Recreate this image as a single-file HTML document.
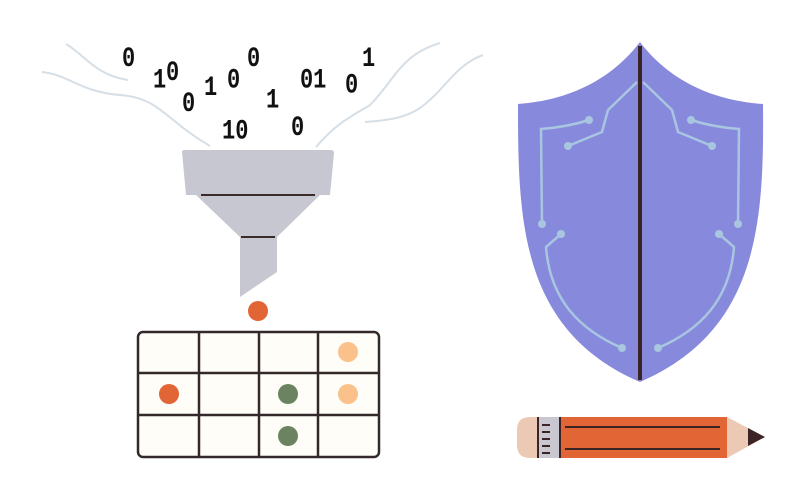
<!DOCTYPE html>
<html><head><style>body{margin:0;background:#fff}svg{display:block}</style></head><body>
<svg width="806" height="500" viewBox="0 0 806 500" xmlns="http://www.w3.org/2000/svg">
<g fill="none" stroke="#d6dee6" stroke-width="2">
<path d="M66 44 C85 55 95 75 128 80"/>
<path d="M42 72 C70 75 80 92 120 95 C160 98 165 120 210 146"/>
<path d="M440 43 C400 55 395 80 370 105 C345 120 335 125 316 147"/>
<path d="M483 55 C455 65 445 90 420 108 C405 118 390 120 365 122"/>
</g>
<g font-family="Liberation Mono, monospace" font-weight="bold" font-size="22" fill="#111" transform="scale(1,1.25)">
<text x="122" y="53">0</text>
<text x="153" y="70">1</text>
<text x="166" y="64">0</text>
<text x="182" y="89">0</text>
<text x="204" y="76">1</text>
<text x="227" y="70">0</text>
<text x="247" y="53">0</text>
<text x="266" y="86">1</text>
<text x="291" y="108">0</text>
<text x="222" y="111">10</text>
<text x="300" y="70">01</text>
<text x="345" y="74">0</text>
<text x="362" y="53">1</text>
</g>
<path d="M182 152 Q182 150 185 150 L331 150 Q334 150 334 153 L330 195 L186 195 Z" fill="#c7c7d1"/>
<path d="M196 195 L320 195 L277 237 L277 272 L240 297 L240 237 Z" fill="#c7c7d1"/>
<line x1="201" y1="195" x2="315" y2="195" stroke="#3a2a2a" stroke-width="2"/>
<line x1="241" y1="237" x2="275" y2="237" stroke="#3a2a2a" stroke-width="2"/>
<circle cx="258" cy="311" r="10" fill="#e26536"/>
<rect x="138" y="332" width="241" height="125" rx="5" fill="#fefdf8" stroke="#33292a" stroke-width="2.5"/>
<g stroke="#33292a" stroke-width="2.5">
<line x1="199" y1="332" x2="199" y2="457"/><line x1="259" y1="332" x2="259" y2="457"/><line x1="318" y1="332" x2="318" y2="457"/>
<line x1="138" y1="373" x2="379" y2="373"/><line x1="138" y1="415" x2="379" y2="415"/>
</g>
<circle cx="348" cy="352" r="10" fill="#fbc18a"/>
<circle cx="348" cy="394" r="10" fill="#fbc18a"/>
<circle cx="169" cy="394" r="10" fill="#e26536"/>
<circle cx="288" cy="394" r="10" fill="#6c8362"/>
<circle cx="288" cy="436" r="10" fill="#6c8362"/>
<path d="M640 42 C615 75 575 100 518 104 C518 220 520 330 640 382 C760 330 764 220 763 104 C705 100 665 75 640 42 Z" fill="#8789dd"/>
<g fill="none" stroke="#a9c6e0" stroke-width="2.5">
<path d="M637 82 L608 110 L602 132 L568 146"/>
<path d="M589 120 C570 126 555 128 541 129 L542 224"/>
<path d="M561 234 L546 247 C550 300 580 330 622 348"/>
<path d="M643 82 L672 110 L678 132 L712 146"/>
<path d="M691 120 C710 126 725 128 739 129 L738 224"/>
<path d="M719 234 L734 247 C730 300 700 330 658 348"/>
</g>
<g fill="#a9c6e0">
<circle cx="568" cy="146" r="4"/><circle cx="589" cy="120" r="4"/><circle cx="542" cy="224" r="4"/><circle cx="561" cy="234" r="4"/><circle cx="622" cy="348" r="4"/>
<circle cx="712" cy="146" r="4"/><circle cx="691" cy="120" r="4"/><circle cx="738" cy="224" r="4"/><circle cx="719" cy="234" r="4"/><circle cx="658" cy="348" r="4"/>
</g>
<line x1="640" y1="46" x2="640" y2="380" stroke="#3a2426" stroke-width="4"/>
<path d="M530 417 L540 417 L540 458 L530 458 Q517 458 517 445 L517 430 Q517 417 530 417 Z" fill="#ebc9b4"/>
<rect x="537" y="417" width="24" height="41" fill="#c9c8d1"/>
<g stroke="#3a2426" stroke-width="2"><line x1="538" y1="417" x2="538" y2="458"/><line x1="560" y1="417" x2="560" y2="458"/>
<line x1="542" y1="425" x2="550" y2="425"/><line x1="542" y1="432" x2="550" y2="432"/><line x1="542" y1="439" x2="550" y2="439"/><line x1="542" y1="446" x2="550" y2="446"/><line x1="542" y1="453" x2="550" y2="453"/></g>
<rect x="561" y="417" width="166" height="41" fill="#e26536"/>
<g stroke="#3a2426" stroke-width="2"><line x1="565" y1="427" x2="720" y2="427"/><line x1="565" y1="449" x2="720" y2="449"/></g>
<path d="M727 417 L765 437 L727 458 Z" fill="#ebc9b4"/>
<path d="M748 428 L765 437 L748 446 Z" fill="#3a2426"/>
</svg>
</body></html>
